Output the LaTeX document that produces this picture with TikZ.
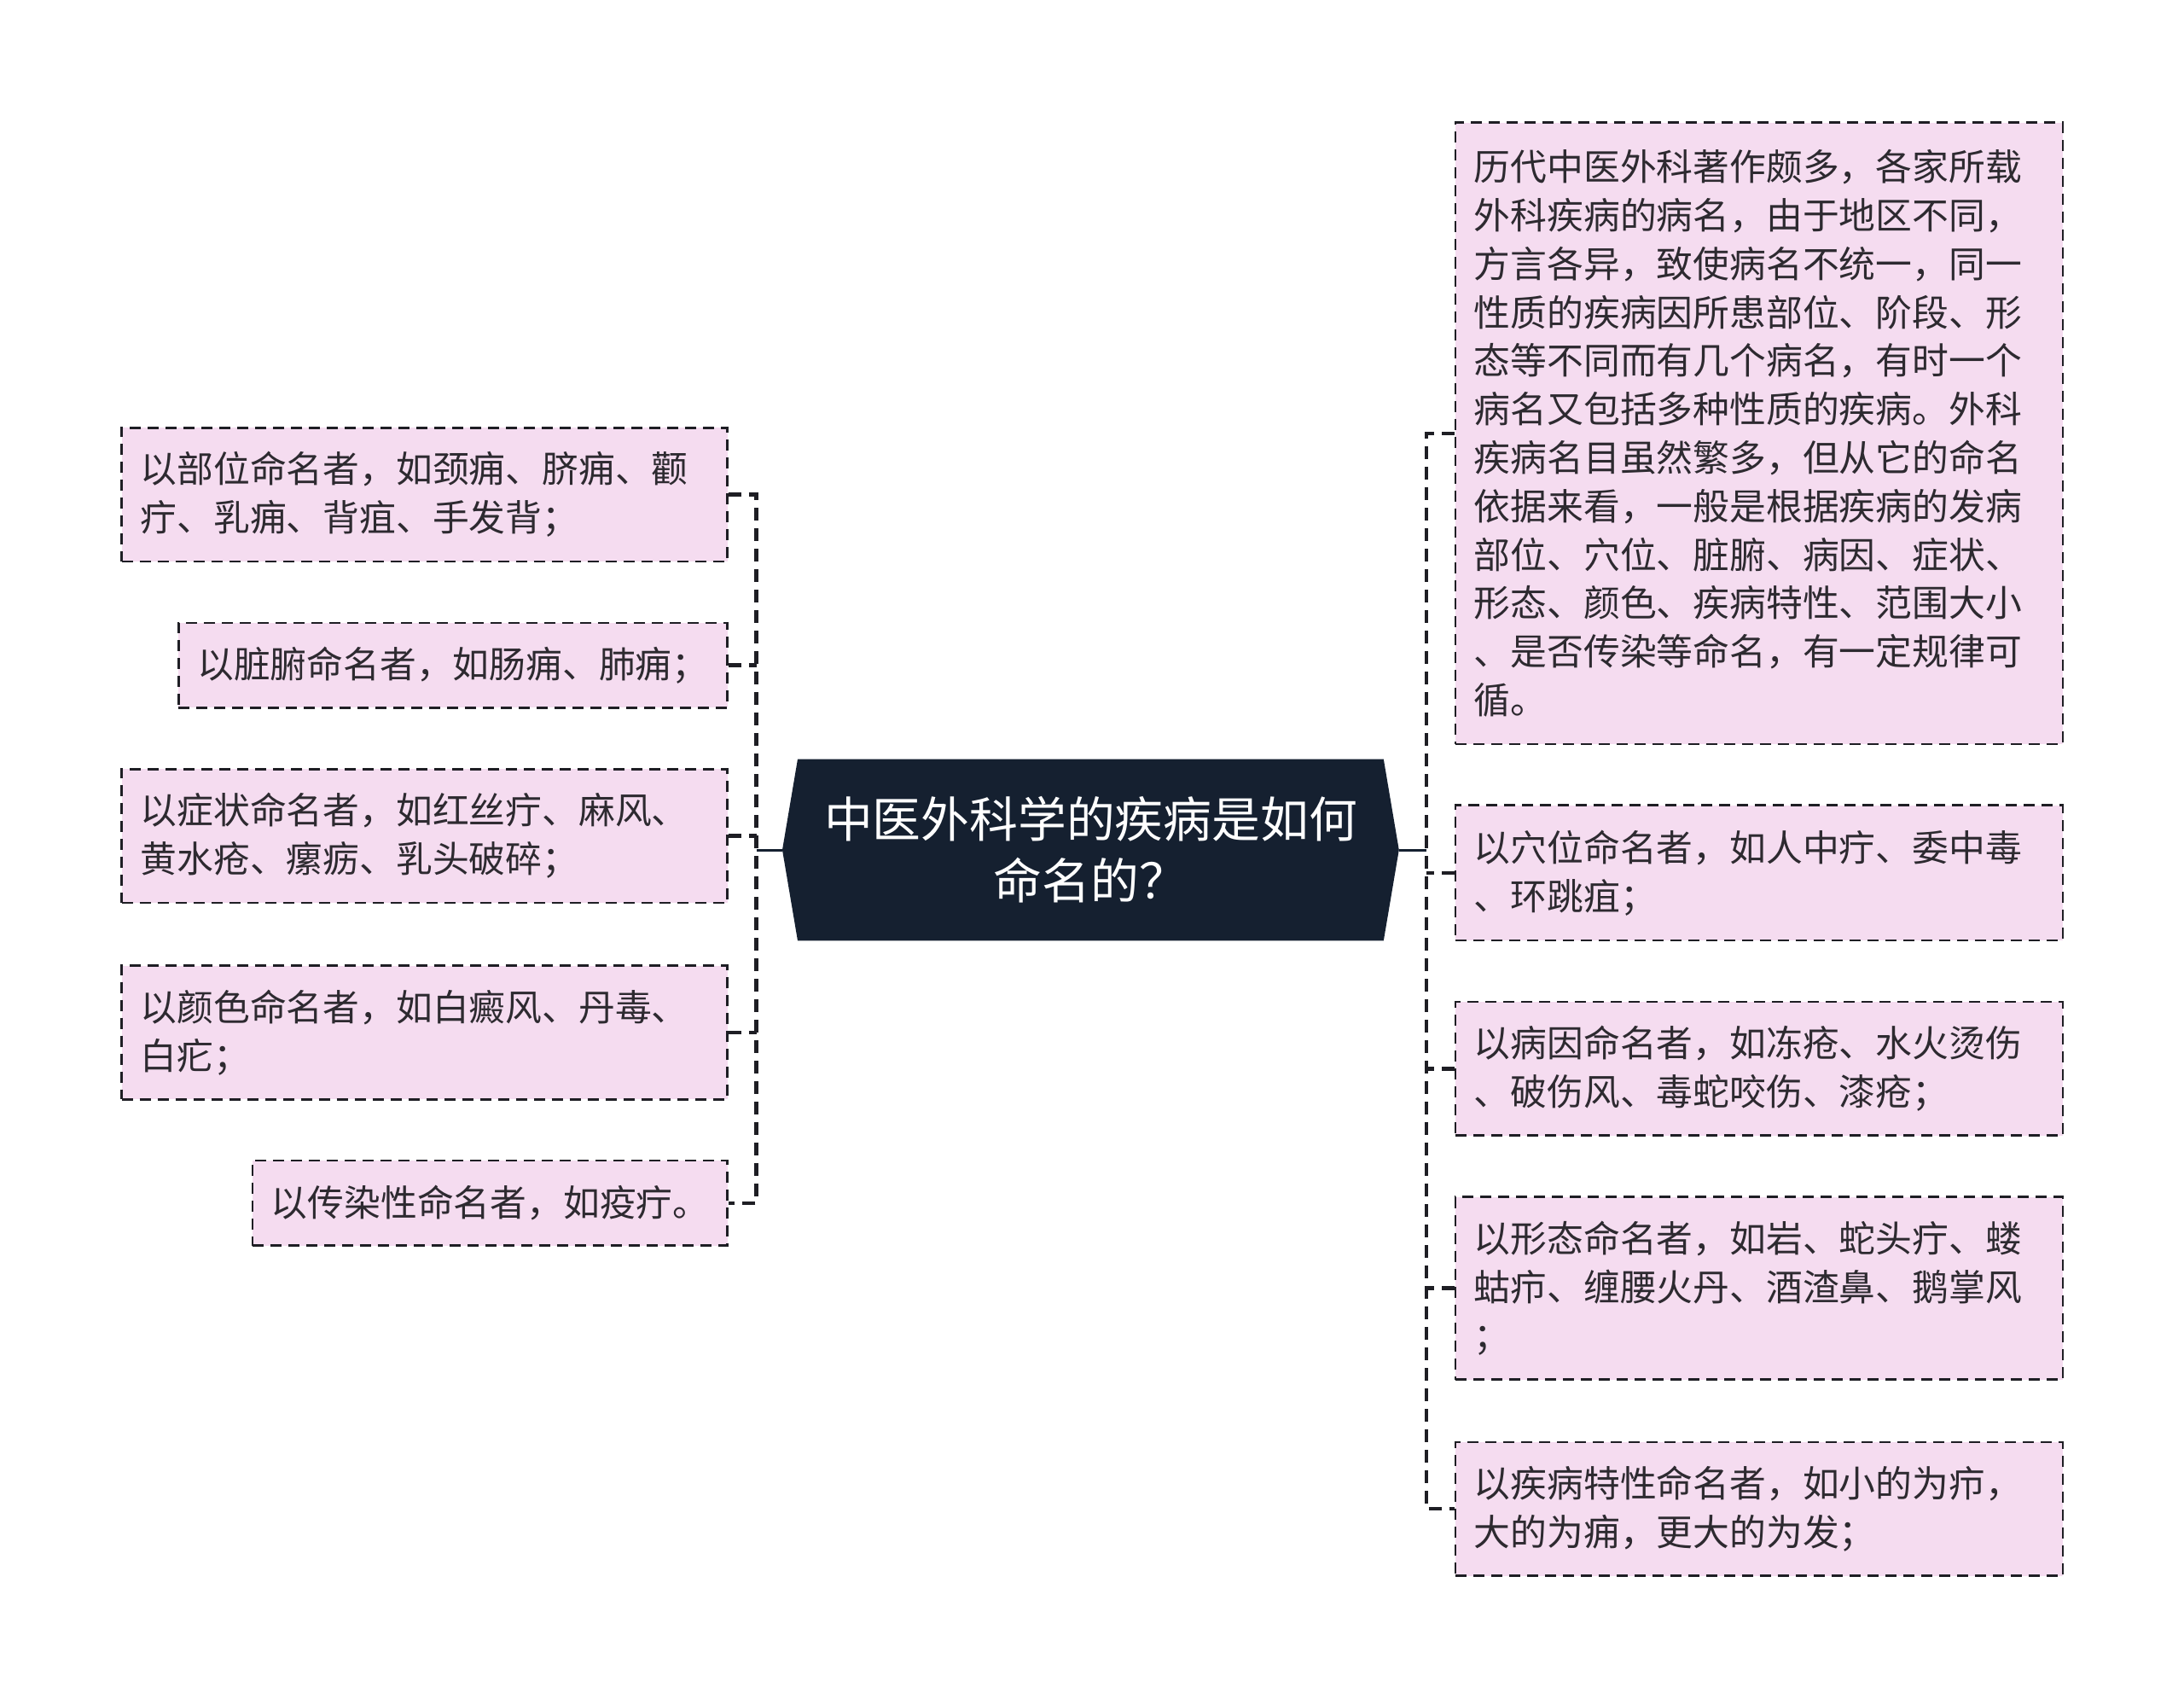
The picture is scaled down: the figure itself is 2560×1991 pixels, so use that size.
\documentclass[tikz,border=0pt]{standalone}
\usepackage{fontspec}
\newfontfamily\cjk{Noto Sans CJK SC}
\usetikzlibrary{positioning,backgrounds}
\definecolor{rootfill}{RGB}{21,32,48}
\definecolor{leaffill}{RGB}{245,220,240}
\definecolor{linecol}{RGB}{30,30,36}
\definecolor{textcol}{RGB}{45,42,48}
\tikzset{font=\cjk}
\tikzset{leaf/.style={draw=linecol, line width=1.3pt, dash pattern=on 6.5pt off 4pt,
  fill=leaffill, text=textcol, align=left, inner xsep=11pt, inner ysep=0pt,
  font=\cjk\fontsize{21.4}{28.4}\selectfont}}
\tikzset{link/.style={draw=linecol, line width=2.2pt, dash pattern=on 7.5pt off 4.5pt}}
\tikzset{stem/.style={draw=rootfill, line width=1.5pt}}

\begin{document}
\begin{tikzpicture}[x=0.5pt, y=-0.5pt]
\useasboundingbox (0,0) rectangle (2560,1991);
% central topic
\node[text=white, align=center, minimum width=343pt, minimum height=106pt,
  font=\cjk\fontsize{28.4}{36}\selectfont] (root) at (1278.4,996) {中医外科学的疾病是如何\\命名的？};
\begin{scope}[on background layer]
\fill[rootfill] (root.north west) -- (root.north east) -- ([xshift=9pt]root.east)
  -- (root.south east) -- (root.south west) -- ([xshift=-9pt]root.west) -- cycle;
\end{scope}
\coordinate (rootl) at ([xshift=-9pt]root.west);
\coordinate (rootr) at ([xshift=9pt]root.east);

% left branches
\node[leaf, anchor=east, text width=333pt, minimum height=78.4pt] (l1) at (853.9,579.6)
  {以部位命名者，如颈痈、脐痈、颧\\疔、乳痈、背疽、手发背；};
\node[leaf, anchor=east, text width=299.7pt, minimum height=49.8pt] (l2) at (853.9,779.6)
  {以脏腑命名者，如肠痈、肺痈；};
\node[leaf, anchor=east, text width=333pt, minimum height=78.4pt] (l3) at (853.9,979.6)
  {以症状命名者，如红丝疔、麻风、\\黄水疮、瘰疬、乳头破碎；};
\node[leaf, anchor=east, text width=333pt, minimum height=78.4pt] (l4) at (853.9,1209.9)
  {以颜色命名者，如白癜风、丹毒、\\白疕；};
\node[leaf, anchor=east, text width=256.4pt, minimum height=49.8pt] (l5) at (853.9,1409.8)
  {以传染性命名者，如疫疔。};

% right branches
\node[leaf, anchor=west, text width=334pt, minimum height=364.1pt] (r1) at (1704.5,507.8)
  {历代中医外科著作颇多，各家所载\\外科疾病的病名，由于地区不同，\\方言各异，致使病名不统一，同一\\性质的疾病因所患部位、阶段、形\\态等不同而有几个病名，有时一个\\病名又包括多种性质的疾病。外科\\疾病名目虽然繁多，但从它的命名\\依据来看，一般是根据疾病的发病\\部位、穴位、脏腑、病因、症状、\\形态、颜色、疾病特性、范围大小\\、是否传染等命名，有一定规律可\\循。};
\node[leaf, anchor=west, text width=334pt, minimum height=79.2pt] (r2) at (1704.5,1022.9)
  {以穴位命名者，如人中疔、委中毒\\、环跳疽；};
\node[leaf, anchor=west, text width=334pt, minimum height=78.4pt] (r3) at (1704.5,1252.3)
  {以病因命名者，如冻疮、水火烫伤\\、破伤风、毒蛇咬伤、漆疮；};
\node[leaf, anchor=west, text width=334pt, minimum height=107pt] (r4) at (1704.5,1509.5)
  {以形态命名者，如岩、蛇头疔、蝼\\蛄疖、缠腰火丹、酒渣鼻、鹅掌风\\；};
\node[leaf, anchor=west, text width=334pt, minimum height=78.4pt] (r5) at (1704.5,1768.2)
  {以疾病特性命名者，如小的为疖，\\大的为痈，更大的为发；};

% connectors
\coordinate (ltrunk) at (886.5,996);
\coordinate (rtrunk) at (1671.8,996);
\draw[stem] (rootl) -- (ltrunk);
\draw[stem] (rootr) -- (rtrunk);
\draw[link] (l1.east) -| (ltrunk |- l5.east) -- (l5.east);
\draw[link] (r1.west) -| (rtrunk |- r5.west) -- (r5.west);
\foreach \n in {l2,l3,l4}
  \draw[link] (\n.east) -- (\n.east -| ltrunk);
\foreach \n in {r2,r3,r4}
  \draw[link] (\n.west) -- (\n.west -| rtrunk);
\end{tikzpicture}
\end{document}
